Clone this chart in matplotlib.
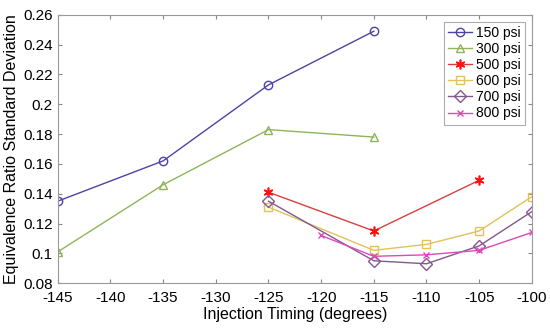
import matplotlib
matplotlib.use("Agg")
import matplotlib.pyplot as plt

plt.rcParams['font.family'] = ['Liberation Sans', 'DejaVu Sans']
plt.rcParams['axes.unicode_minus'] = False

# data
x_150 = [-145, -135, -125, -115]
y_150 = [0.135, 0.162, 0.213, 0.249]
x_300 = [-145, -135, -125, -115]
y_300 = [0.101, 0.146, 0.183, 0.178]
x_500 = [-125, -115, -105]
y_500 = [0.141, 0.115, 0.149]
x_600 = [-125, -115, -110, -105, -100]
y_600 = [0.131, 0.102, 0.106, 0.115, 0.138]
x_700 = [-125, -115, -110, -105, -100]
y_700 = [0.135, 0.095, 0.093, 0.105, 0.128]
x_800 = [-120, -115, -110, -105, -100]
y_800 = [0.112, 0.098, 0.099, 0.102, 0.114]

fig = plt.figure(figsize=(5.5, 3.3), dpi=100)
ax = fig.add_axes([0.105, 0.142, 0.862, 0.813])

ax.plot(x_150, y_150, color='#4b44a8', marker='o', mfc='none', ms=6, lw=1, label='150 psi')
ax.plot(x_300, y_300, color='#8fb45a', marker='^', mfc='none', ms=6, lw=1, label='300 psi')
ax.plot(x_500, y_500, color='#d84040', mec='#ff1010', marker=(6, 2, 0), ms=7, mew=1.2, lw=1, label='500 psi')
ax.plot(x_600, y_600, color='#e2c25a', marker='s', mfc='none', ms=6, lw=1, label='600 psi')
ax.plot(x_700, y_700, color='#85578f', marker='D', mfc='none', ms=6, lw=1, label='700 psi')
ax.plot(x_800, y_800, color='#e048b8', marker='x', ms=5, lw=1, label='800 psi')

ax.set_xlim(-145, -100)
ax.set_ylim(0.08, 0.26)
ax.set_xticks(range(-145, -99, 5))
ax.set_yticks([0.08, 0.1, 0.12, 0.14, 0.16, 0.18, 0.2, 0.22, 0.24, 0.26])
ax.set_yticklabels(['0.08', '0.1', '0.12', '0.14', '0.16', '0.18', '0.2', '0.22', '0.24', '0.26'])
ax.tick_params(direction='in', top=True, right=True, labelsize=11, color='#888888', length=3)
ax.tick_params(axis='x', pad=6)
for s in ax.spines.values():
    s.set_color('#999999')

ax.set_xlabel('Injection Timing (degrees)', fontsize=11.5, labelpad=1)
ax.set_ylabel('Equivalence Ratio Standard Deviation', fontsize=11.5, labelpad=3)

leg = ax.legend(loc='upper right', fontsize=10, frameon=True, fancybox=False,
                edgecolor='#999999', handlelength=1.7, borderpad=0.3, labelspacing=0.15,
                handletextpad=0.3, borderaxespad=0.5)
leg.get_frame().set_linewidth(0.8)

fig.savefig('out.png', dpi=100)
